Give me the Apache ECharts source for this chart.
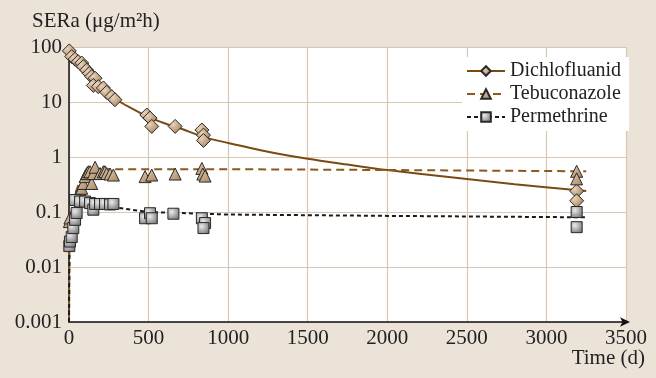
<!DOCTYPE html>
<html>
<head>
<meta charset="utf-8">
<script src="https://cdn.jsdelivr.net/npm/echarts@6/dist/echarts.min.js"></script>
<style>
html,body{margin:0;padding:0;background:#ECE3D8;}
#c{width:656px;height:378px;}
</style>
</head>
<body>
<div id="c"></div>
<script>
// ---- data ----
const seriesNames = ['Dichlofluanid', 'Tebuconazole', 'Permethrine'];
const xTicks = [0, 500, 1000, 1500, 2000, 2500, 3000, 3500];
const yTicks = ['0.001', '0.01', '0.1', '1', '10', '100'];

// measured points
const dichloT = [2, 17, 38, 58, 80, 90, 111, 128, 143, 164, 153, 184, 216, 237, 269, 289, 489, 509, 520, 667, 835, 845, 845, 3190, 3190];
const dichloV = [85, 67, 60, 54, 51, 44, 38, 33, 29, 27, 20, 19, 18, 15, 12.5, 11, 5.8, 5.1, 3.6, 3.6, 3.1, 2.5, 2.0, 0.24, 0.16];

const tebuT = [2, 6, 60, 69, 80, 90, 101, 111, 121, 132, 143, 153, 164, 195, 216, 226, 237, 258, 279, 478, 520, 667, 835, 841, 855, 3190, 3190];
const tebuV = [0.067, 0.078, 0.21, 0.25, 0.27, 0.33, 0.44, 0.5, 0.54, 0.54, 0.33, 0.5, 0.65, 0.5, 0.54, 0.54, 0.5, 0.49, 0.47, 0.44, 0.47, 0.49, 0.62, 0.49, 0.45, 0.55, 0.4];

const permT = [2, 6, 17, 27, 38, 48, 38, 69, 101, 132, 153, 164, 195, 226, 258, 279, 478, 509, 520, 656, 835, 855, 845, 3190, 3190];
const permV = [0.024, 0.029, 0.035, 0.051, 0.072, 0.096, 0.165, 0.155, 0.155, 0.145, 0.11, 0.14, 0.14, 0.14, 0.137, 0.14, 0.077, 0.095, 0.077, 0.093, 0.077, 0.063, 0.051, 0.1, 0.053];

// fitted curves
const dichloCurveT = [0, 25, 50, 100, 150, 200, 300, 400, 500, 600, 700, 850, 1000, 1250, 1500, 1750, 2000, 2400, 2800, 3250];
const dichloCurveV = [90, 68, 56, 40, 28, 20, 11, 7.5, 5.3, 4.1, 3.3, 2.3, 1.8, 1.25, 0.93, 0.73, 0.58, 0.43, 0.32, 0.24];

const tebuCurveT = [0, 3, 10, 30, 60, 100, 150, 200, 1000, 2000, 3250];
const tebuCurveV = [0.001, 0.03, 0.08, 0.18, 0.32, 0.48, 0.58, 0.6, 0.6, 0.58, 0.55];

const permCurveT = [0, 3, 10, 25, 50, 80, 150, 300, 500, 1000, 2000, 3250];
const permCurveV = [0.001, 0.02, 0.04, 0.08, 0.13, 0.15, 0.145, 0.12, 0.1, 0.09, 0.085, 0.08];

const zip = (a, b) => a.map((v, i) => [v, b[i]]);

const FONT = 'Liberation Serif';
const tanFill = {type: 'radial', x: 0.35, y: 0.35, r: 0.8, colorStops: [{offset: 0, color: '#EAD3B8'}, {offset: 1, color: '#9A7352'}]};
const triFill = {type: 'linear', x: 0, y: 0, x2: 1, y2: 1, colorStops: [{offset: 0, color: '#E6CFB2'}, {offset: 1, color: '#A6835F'}]};
const grayFill = {type: 'radial', x: 0.35, y: 0.35, r: 0.8, colorStops: [{offset: 0, color: '#EBEBEB'}, {offset: 1, color: '#6C6C6C'}]};

const chart = echarts.init(document.getElementById('c'), null, {renderer: 'canvas'});
chart.setOption({
  backgroundColor: '#ECE3D8',
  animation: false,
  title: [
    {text: 'SERa (μg/m²h)', left: 27, top: 6, textStyle: {fontFamily: FONT, fontSize: 21, fontWeight: 'normal', color: '#222'}},
    {text: 'Time (d)', right: 6, bottom: 4, textStyle: {fontFamily: FONT, fontSize: 21, fontWeight: 'normal', color: '#222'}}
  ],
  grid: {left: 69, right: 30, top: 47, bottom: 56, show: true, backgroundColor: '#fff', borderWidth: 0},
  legend: {
    data: seriesNames,
    orient: 'vertical',
    left: 462, top: 57,
    itemWidth: 38, itemHeight: 12, itemGap: 3,
    padding: [4, 8, 4, 4],
    backgroundColor: '#fff',
    textStyle: {fontFamily: FONT, fontSize: 20, color: '#222'}
  },
  xAxis: {
    type: 'value', min: 0, max: 3500, interval: 500,
    axisLine: {show: true, lineStyle: {color: '#111', width: 1.5}, symbol: ['none', 'arrow'], symbolSize: [7, 10], symbolOffset: [0, 4]},
    axisTick: {show: false},
    axisLabel: {fontFamily: FONT, fontSize: 21, color: '#222', margin: 6,
      formatter: v => xTicks.includes(v) ? String(v) : ''},
    splitLine: {show: true, lineStyle: {color: '#D9C7B1', width: 1.2}}
  },
  yAxis: {
    type: 'log', logBase: 10, min: 0.001, max: 100,
    axisLine: {show: true, lineStyle: {color: '#111', width: 1.5}},
    axisTick: {show: false},
    axisLabel: {fontFamily: FONT, fontSize: 21, color: '#222', margin: 7,
      formatter: v => { const s = yTicks.find(t => Math.abs(parseFloat(t) - v) / v < 1e-6); return s || ''; }},
    splitLine: {show: true, lineStyle: {color: '#D9C7B1', width: 1.2}}
  },
  series: [
    {name: 'Dichlofluanid', type: 'line', data: zip(dichloCurveT, dichloCurveV), smooth: 0.3, showSymbol: false,
      symbol: 'diamond', symbolSize: 13, itemStyle: {color: tanFill, borderColor: '#2A2A2A', borderWidth: 1},
      lineStyle: {color: '#7A4A12', width: 2}, z: 2},
    {name: 'Tebuconazole', type: 'line', data: zip(tebuCurveT, tebuCurveV), showSymbol: false,
      symbol: 'triangle', symbolSize: 11, itemStyle: {color: triFill, borderColor: '#2A2A2A', borderWidth: 1},
      lineStyle: {color: '#8A5A1C', width: 2, type: [8, 5]}, z: 2},
    {name: 'Permethrine', type: 'line', data: zip(permCurveT, permCurveV), showSymbol: false,
      symbol: 'rect', symbolSize: 11, itemStyle: {color: grayFill, borderColor: '#2A2A2A', borderWidth: 1},
      lineStyle: {color: '#1A1A1A', width: 2, type: [4, 3]}, z: 2},
    {name: 'Dichlofluanid', type: 'scatter', data: zip(dichloT, dichloV), symbol: 'diamond', symbolSize: 14,
      itemStyle: {color: tanFill, borderColor: '#2A2A2A', borderWidth: 1, opacity: 1}, z: 3},
    {name: 'Tebuconazole', type: 'scatter', data: zip(tebuT, tebuV), symbol: 'triangle', symbolSize: 12,
      itemStyle: {color: triFill, borderColor: '#2A2A2A', borderWidth: 1, opacity: 1}, z: 3},
    {name: 'Permethrine', type: 'scatter', data: zip(permT, permV), symbol: 'rect', symbolSize: 11,
      itemStyle: {color: grayFill, borderColor: '#2A2A2A', borderWidth: 1, opacity: 1}, z: 3}
  ]
});
</script>
</body>
</html>
